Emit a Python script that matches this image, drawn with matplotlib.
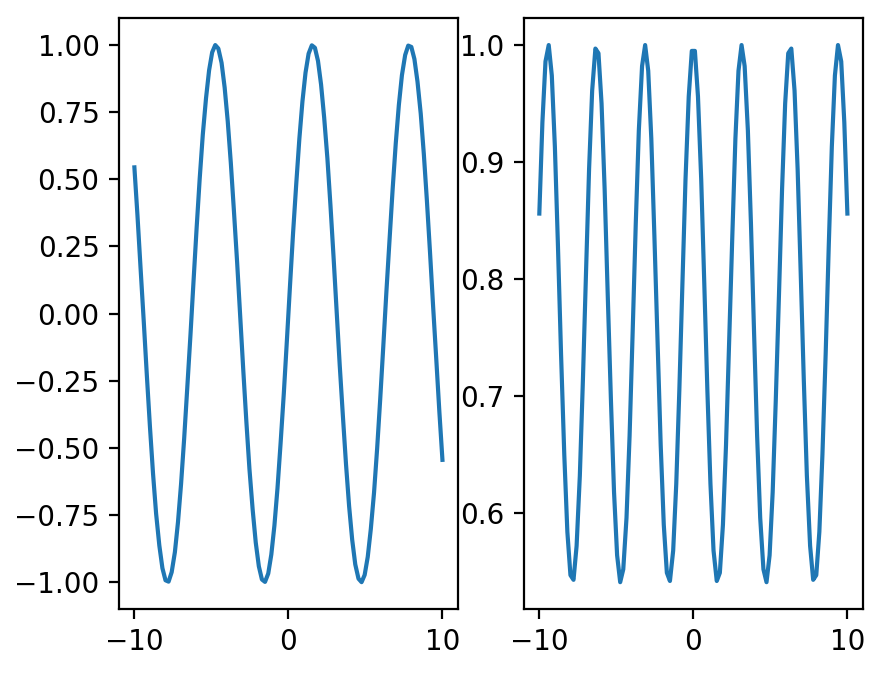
import numpy as np
import matplotlib
matplotlib.use("Agg")
import matplotlib.pyplot as plt

x = [-10.00, -9.80, -9.60, -9.39, -9.19, -8.99, -8.79, -8.59, -8.38, -8.18,
     -7.98, -7.78, -7.58, -7.37, -7.17, -6.97, -6.77, -6.57, -6.36, -6.16,
     -5.96, -5.76, -5.56, -5.35, -5.15, -4.95, -4.75, -4.55, -4.34, -4.14,
     -3.94, -3.74, -3.54, -3.33, -3.13, -2.93, -2.73, -2.53, -2.32, -2.12,
     -1.92, -1.72, -1.52, -1.31, -1.11, -0.91, -0.71, -0.51, -0.30, -0.10,
     0.10, 0.30, 0.51, 0.71, 0.91, 1.11, 1.31, 1.52, 1.72, 1.92,
     2.12, 2.32, 2.53, 2.73, 2.93, 3.13, 3.33, 3.54, 3.74, 3.94,
     4.14, 4.34, 4.55, 4.75, 4.95, 5.15, 5.35, 5.56, 5.76, 5.96,
     6.16, 6.36, 6.57, 6.77, 6.97, 7.17, 7.37, 7.58, 7.78, 7.98,
     8.18, 8.38, 8.59, 8.79, 8.99, 9.19, 9.39, 9.60, 9.80, 10.00]

# left panel
wave = [0.544, 0.365, 0.170, -0.031, -0.231, -0.421, -0.595, -0.744, -0.863, -0.947,
        -0.992, -0.997, -0.962, -0.887, -0.776, -0.634, -0.466, -0.279, -0.080, 0.121,
        0.318, 0.502, 0.665, 0.801, 0.905, 0.972, 0.999, 0.986, 0.933, 0.841,
        0.716, 0.561, 0.384, 0.191, -0.010, -0.211, -0.402, -0.578, -0.730, -0.852,
        -0.940, -0.989, -0.998, -0.967, -0.896, -0.789, -0.650, -0.484, -0.298, -0.101,
        0.101, 0.298, 0.484, 0.650, 0.789, 0.896, 0.967, 0.998, 0.989, 0.940,
        0.852, 0.730, 0.578, 0.402, 0.211, 0.010, -0.191, -0.384, -0.561, -0.716,
        -0.841, -0.933, -0.986, -0.999, -0.972, -0.905, -0.801, -0.665, -0.502, -0.318,
        -0.121, 0.080, 0.279, 0.466, 0.634, 0.776, 0.887, 0.962, 0.997, 0.992,
        0.947, 0.863, 0.744, 0.595, 0.421, 0.231, 0.031, -0.170, -0.365, -0.544]

# right panel
wave2 = [0.856, 0.934, 0.986, 1.000, 0.974, 0.913, 0.828, 0.736, 0.650, 0.584,
         0.547, 0.543, 0.572, 0.632, 0.714, 0.805, 0.894, 0.961, 0.997, 0.993,
         0.950, 0.877, 0.787, 0.696, 0.618, 0.564, 0.541, 0.552, 0.596, 0.666,
         0.755, 0.847, 0.927, 0.982, 1.000, 0.978, 0.920, 0.837, 0.745, 0.658,
         0.590, 0.549, 0.542, 0.568, 0.625, 0.705, 0.796, 0.885, 0.956, 0.995,
         0.995, 0.956, 0.885, 0.796, 0.705, 0.625, 0.568, 0.542, 0.549, 0.590,
         0.658, 0.745, 0.837, 0.920, 0.978, 1.000, 0.982, 0.927, 0.847, 0.755,
         0.666, 0.596, 0.552, 0.541, 0.564, 0.618, 0.696, 0.787, 0.877, 0.950,
         0.993, 0.997, 0.961, 0.894, 0.805, 0.714, 0.632, 0.572, 0.543, 0.547,
         0.584, 0.650, 0.736, 0.828, 0.913, 0.974, 1.000, 0.986, 0.934, 0.856]

xticks = [-10, 0, 10]

fig, (ax1, ax2) = plt.subplots(1, 2, figsize=(4.42, 3.37), dpi=200)
fig.subplots_adjust(left=0.1346, right=0.976, bottom=0.0964, top=0.973, wspace=0.195)

ax1.plot(x, wave, color="#1f77b4")
ax2.plot(x, wave2, color="#1f77b4")

ax1.set_xticks(xticks)
ax2.set_xticks(xticks)

fig.savefig("out.png", dpi=200)
